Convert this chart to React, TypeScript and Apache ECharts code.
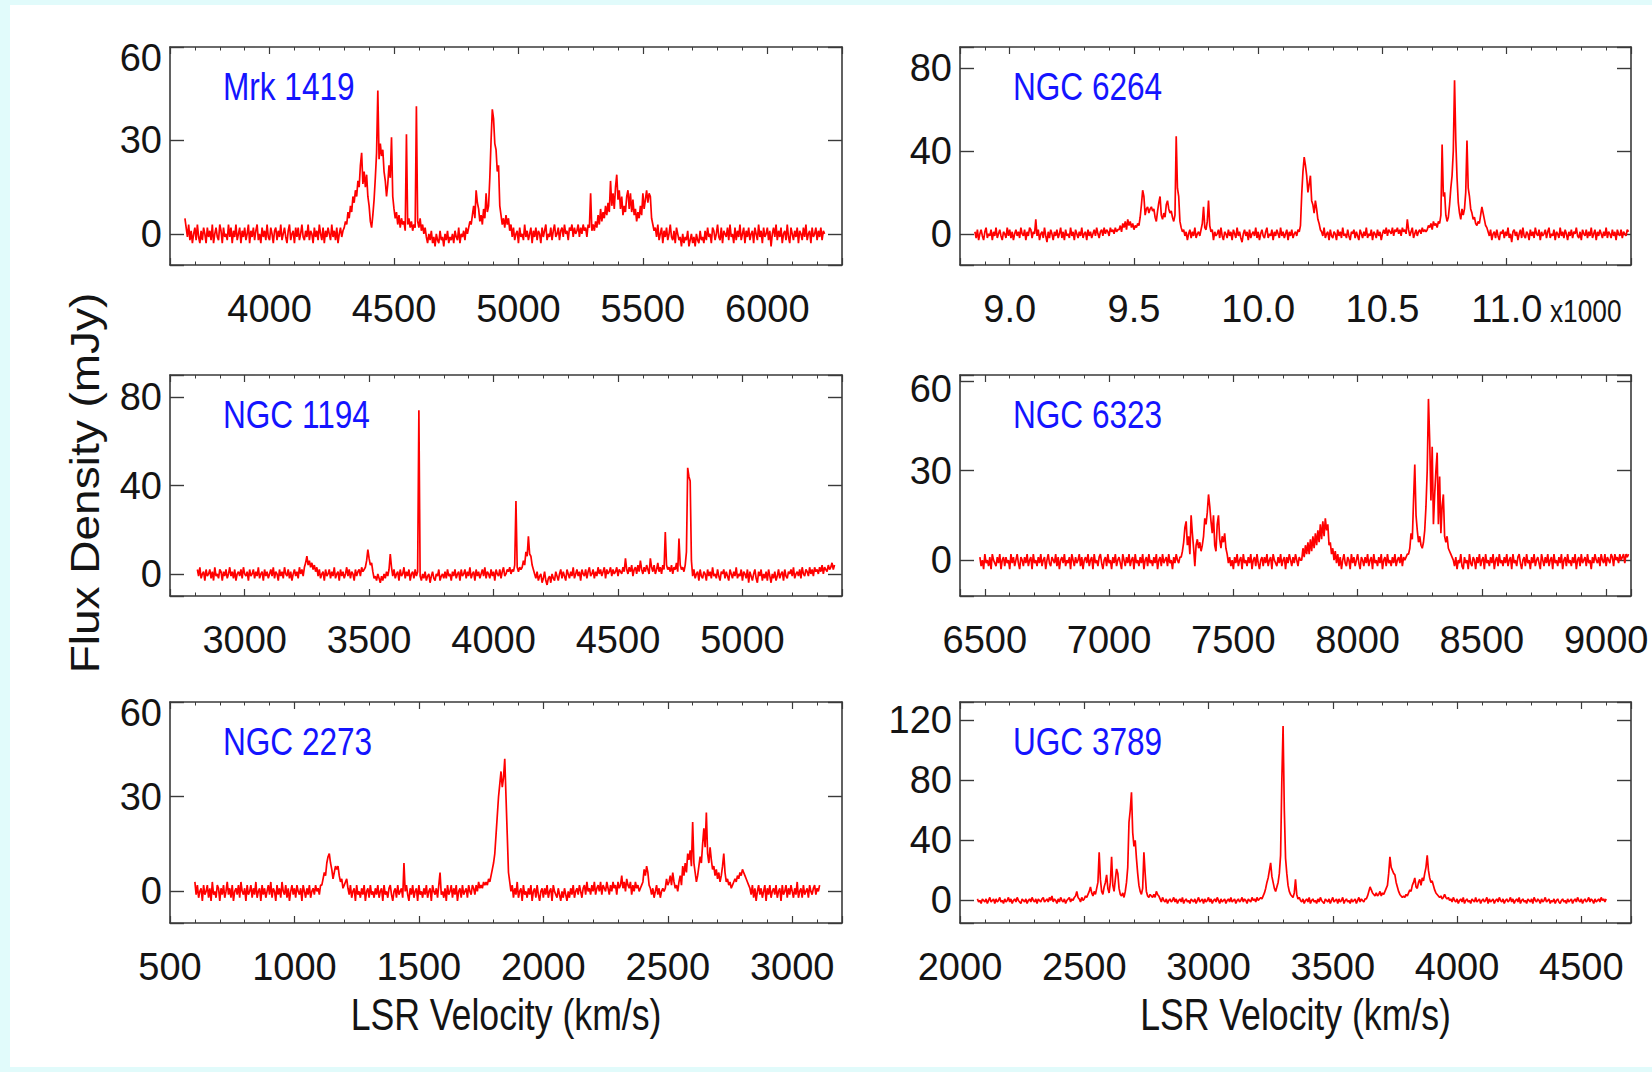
import React, { useEffect, useRef } from 'react';
import * as echarts from 'echarts';

// Channel width of every spectrum, km/s
const DV = 5;

// Mrk 1419: velocity of the first channel (km/s) and flux density per channel (mJy)
const MRK1419_V0 = 3660;
const MRK1419_FLUX = [
  5, 2, -1, 3, -2, 1, -3, 0, 2, -2, 3, -1, -3, 1, -2, 2, 0, -3, 2, -1,
  1, -2, 3, -3, 0, 2, -1, -2, 3, 1, -3, 2, -1, 0, -2, 3, -1, 2, -3, 1,
  -1, 3, -2, 0, 2, -3, 1, -1, 2, -2, 0, 3, -3, 1, -1, 2, -2, 1, 3, -2,
  0, -3, 2, -1, 1, -2, 3, -1, -2, 2, 0, -3, 1, 2, -2, 1, -1, 3, -2, 0,
  2, -1, -3, 1, 3, -2, 0, 1, -3, 2, -1, 2, -2, 0, 3, -1, -2, 1, -1, 3,
  -2, 1, 0, -3, 2, -1, 1, -2, 3, 0, -2, 2, -3, 1, -1, 2, 0, -2, 3, -1,
  1, -2, 2, -3, 0, 2, -1, 1,
  2, 4, 3, 7, 5, 9, 7, 12, 10, 14, 12, 17, 15, 22, 26, 16, 20, 15, 19, 12,
  9, 4, 2, 6, 11, 18, 26, 46, 24, 29, 25, 27, 20, 17, 12, 16, 22, 18, 31, 12,
  8, 5, 7, 3, 6, 2, 5, 3, 4, 1, 32, 3, 5, 2, 4, 1, 3, 2, 41, 4,
  2, 5, 1, 3, 0, 2,
  -1, -3, 0, -2, 1, -3, -1, -4, 0, -2, -3, 1, -2, -1, -4, 0, -2, 1, -3, -1,
  -2, 0, -3, 1, -1, -2, 2, -3, 0, -1, 1, -2, 2, 0,
  2, 4, 3, 6, 9, 5, 14, 10, 8, 4, 6, 3, 8, 5, 13, 7, 9, 18, 30, 40,
  37, 29, 27, 20, 22, 9, 6, 3, 5, 2, 6, 3, 5, 1, 3,
  -1, 2, -2, 0, 1, -3, 2, -1, 0, -2, 3, -1, 1, -2, 0, 2, -3, 1, -1, 2,
  -2, 1, 0, -3, 2, -1, 1, 3, -2, 0, -1, 2, -2, 1, 3, -1, 0, 2, -2, 1,
  2, -1, 3, 0, 1, -2, 2, 1, 3, -1, 2, 0, 1, 3, -1, 2, 0, 3, 1, 2,
  -1, 3,
  2, 13, 1,
  3, 1, 4, 2, 6, 3, 8, 4, 7, 5, 9, 6, 10, 7, 17, 9, 13, 8, 15, 19,
  11, 14, 8, 12, 6, 9, 7, 12, 14, 8, 13, 7, 11, 6, 8, 4, 7, 5, 9, 6,
  13, 8, 11, 14, 10, 13, 12, 5, 3, 1,
  2, -1, 3, -2, 0, 2, -3, 1, -1, 2, -2, 0, 3, -1, -2, 1, -3, 2, 0, -2,
  -1, -4, 0, -3, -1, -2, 1, -4, -2, 0, -3, -1, -4, 0, -2, -3, 1, -2, -1, -3,
  1, -2, 2, -1, 0, -3, 2, 1, -2, 0, 3, -1, -2, 2, -3, 1, 0, -1, 2, -2,
  3, -1, 0, -3, 2, -2, 1, -1, 3, -2, 0, 2, -3, 1, -1, 2, -2, 0, 1, -3,
  2, 0, -2, 3, -1, 1, -3, 2, -1, 0, 2, -2, 1, -4, 0, 2, -1, 3, -2, 1,
  -1, 2, -3, 0, 1, -2, 3, -1, -3, 2, 0, -2, 1, -1, 2, -3, 1, 0, -2, 2,
  -1, 3, -2, 0, 1, -3, 2, -1, 0, 2, -2, 1, -1, 2, -2, 1, 0,
];

// NGC 6264
const NGC6264_V0 = 8860;
const NGC6264_FLUX = [
  1, -2, 2, -3, 0, 2, -1, -3, 1, 3, -2, 0, -1, 2, -3, 1, -1, 3, -2, 0,
  2, -1, -3, 1, 0, -2, 3, -1, 2, -2, 1, -3, 0, 2, -1, 1, -2, 3, 0, -1,
  2, -3, 1, -1, 3, 2, -2, 1, 0,
  7,
  -1, 2, -3, 0, 1, -2, 3, -1, -4, 1, -2, 2, 0, -3, 1, -1, 2, -2, 0, 3,
  -2, 1, -3, 2, -1, 0, -2, 3, -1, 1, -3, 2, 0, -2, 1, -1, 3, -2, 0, 1,
  -3, 2, -1, 1, -2, 0, 2, -1, 3, 0, -2, 1, 2, -1, 3, 0, 2, 1, -1, 3,
  1, 2, 0, 3, 1, 2,
  2, 4, 1, 5, 3, 6, 2, 7, 4, 6, 3, 5, 2, 4, 3, 5, 4, 8, 14, 21,
  18, 9, 12, 13, 10, 12, 13, 11, 12, 8, 6, 11, 15, 18, 9, 7, 10, 8, 14, 16,
  12, 10, 11, 8, 6, 9, 47, 22, 18, 6, 3, 1,
  2, -1, 1, -3, 0, 2, -2, 1, -1, 3, -2, 0, 1, -1,
  2, 5, 13, 3, 2, 6, 16, 4, 1,
  2, -3, 1, -1, 0, 2, -2, 3, -1, -3, 1, 0, -2, 2, -1, 1, -3, 2, 0, -2,
  3, -1, 1, -2, -4, 0, 2, -1, 1, -3, 2, -2, 0, 1, -1, 3, -2, 1, -3, 0,
  2, -1, -2, 1, 3, -2, 0, -1, 2, -3, 1, -1, 2, 0, -2, 3, -1, 1, -2, 0,
  2, -3, 1, -1, 2, -2, 0, 1, -1, 2,
  1, 4, 19, 30, 37, 33, 28, 20, 24, 28, 16, 14, 10, 16, 12, 7, 5, 2, 1,
  -1, 3, -2, 0, 1, -3, 2, -1, -2, 1, 0, -3, 2, -1, 1, -2, 3, -1, 0, -2,
  2, -1, -3, 1, 0, 2, -2, 1, -1, -3, 2, 0, -2, 1, -1, 3, -2, 0, -1, 2,
  -3, 1, 0, -2, 2, -1, 1, -3, 0, 2, 0, 3, -1, 2, 1, 0, 3, -1, 2, 1,
  3, 0, 2, -1, 3, 1, 2, 0,
  7,
  2, -1, 1, 3, -2, 0, 2, -1, 1, 2, 0, 3, 1, 2, 1,
  2, 4, 3, 5, 2, 6, 4, 5, 3, 6, 5, 9, 43, 18, 20, 9, 6, 8, 14, 22,
  28, 40, 74, 45, 27, 15, 10, 7, 12, 9, 12, 20, 45, 22, 18, 12, 10, 7, 8, 5,
  4, 6, 5, 9, 13, 10, 7, 4, 3, 1,
  -1, 2, -3, 0, 1, -2, 2, -1, -3, 1, 0, 2, -2, 1, -1, 3, -2, 0, -4, 1,
  2, -1, 1, -3, 0, 2, -2, 3, -1, -2, 1, 0, -3, 2, -1, 1, -2, 3, 0, -1,
  2, -3, 1, -1, 0, 2, -2, 1, 3, -2, 0, -1, 2, -3, 1, 0, -2, 3, -1, 1,
  -2, 2, 0, -3, 1, -1, 2, -2, 1, 0, 3, -1, -2, 1, -3, 2, 0, -1, 2, -2,
  1, -1, 3, -2, 0, 2, -3, 1, -1, 2, 0, -2, 1, -1, 3, -2, 1, 0, -2, 2,
  -1, 1, -3, 2, 0, -1, 2, -2, 1, 0, -1, 2, 1,
];

// NGC 1194
const NGC1194_V0 = 2810;
const NGC1194_FLUX = [
  2, -1, 3, -2, 0, 1, -3, 2, -1, 0, 2, -2, 1, -3, 3, -1, 0, -2, 2, 1,
  -3, 1, -1, 2, -2, 0, 3, -1, 1, -2, 2, -3, 0, 1, -1, 2, -2, 3, 0, -1,
  1, -3, 2, -1, 0, 2, -2, 1, -1, 3, -2, 0, 1, -3, 2, -1, 1, -2, 0, 2,
  -1, 3, -2, 1, 0, -3, 2, -1, 1, -2, 3, 0, -1, 2, -2, 1, -3, 0, 2, -1,
  1, -2, 3, 0, 2, -1,
  3, 5, 8, 4, 6, 3, 5, 2, 4, 1, 3,
  -1, 2, -2, 0, 1, -3, 2, -1, 0, 2, -2, 1, -1, 3, -2, 0, 1, -3, 2, -1,
  1, -2, 0, 3, -1, 2, -2, 1, 0, -3, 2, -1, 1, 2, -1, 3, 1, 2,
  3, 6, 11, 7, 4, 5,
  1, -2, -1, -3, 0, -2, -4, -1, -3, 0, -2, 1, -1,
  2, 9, 3,
  -1, 2, -2, 0, 1, -3, 2, -1, 0, 3, -2, 1, -1, 2, -3, 0, 1, -2, 2, -1, 1,
  74,
  -1, -3, 0, -2, 1, -3, -1, 0, -4, -1, 1, -2, -3, 0, -1, 2, -3, -1, 0, -2,
  1, -2, 2, -1, 0, -3, 1, -1, 2, -2, 0, 1, -3, 2, -1, 0, 2, -2, 1, -1,
  3, -2, 0, 1, -3, 2, -1, 1, -2, 0, 2, -1, 3, -2, 1, 0, -2, 2, -1, 1,
  -3, 2, 0, -1, 2, -2, 1, 3, -1, 0, 2, 1, 3, 0, 2, 1,
  4, 33, 3,
  1, 3, 2,
  3, 6, 4, 10, 8, 17, 9, 8, 4, 2,
  0, -2, 1, -3, -1, 0, -4, -2, 1, -3, -5, -2, -1, -4, 0, -2, -3, 1, -1, -3,
  0, 2, -2, 1, -1, -3, 2, 0, -2, 1, -1, 3, -2, 0, 2, -1, 1, -3, 2, 0,
  -1, 2, -2, 1, 3, -1, 0, 2, -2, 1, -1, 3, 0, 2, -1, 1, 3, -2, 2, 0,
  1, 3, -1, 2, 0, 1, 3, -1, 2, 1, 0, 3, 1,
  7,
  2, 0, 3, 1, 4, -1, 2, 3, 0, 4, 1, 6, 2, 0, 3, 1, 4, 2, 0, 7,
  3, 1, 4, 0, 2, 5, 1, 3, 0, 4, 2,
  19, 4, 2,
  3, 1, 4, 0, 3, 2, 5, 1,
  16, 4,
  2, 3, 1, 4,
  10, 48, 44, 42, 6,
  -1, 2, -2, 0, 1, -3, 2, -1, -2, 1, 0, -3, 2, -1, 1, -2, 3, -1, 0, -2,
  2, -1, -3, 1, 0, 2, -2, 1, -1, -3, 2, 0, -2, 1, -1, 3, -2, 0, -1, 2,
  -3, 1, 0, -2, 2, -4, 1, -1, -3, 0, 2, -2, -4, 1, -1, 2, -3, 0, -2, 1,
  -3, 2, -1, -4, 0, -2, 1, -3, -1, 2, -2, 0, 1, -3, 2, -1, -2, 1, 0, 2,
  -1, 3, -2, 0, 1, -1, 2, -2, 3, 0, -1, 2, 1, -1, 3, 0, 2, -1, 3, 1,
  2, 0, 3, 1, 4, 0, 3, 2, 1, 4, 2, 3, 5, 2, 4,
];

// NGC 6323
const NGC6323_V0 = 6480;
const NGC6323_FLUX = [
  1, -2, 0, -3, 2, -1, 0, -2, 1, -3, 2, 0, -1, -2, 1, -1, 2, -3, 0, 1,
  -2, 1, -1, 0, -3, 2, -1, 1, -2, 0, 2, -1, -3, 1, 0, -2, 1, -1, 2, -2,
  0, 1, -3, 2, -1, 0, -2, 1, -1, 2, -2, 0, 1, -3, 0, 2, -1, -2, 1, 0,
  -1, 2, -2, 1, -3, 0, 1, -1, 2, -2, 0, -1, 1, -3, 2, 0, -2, 1, -1, 0,
  2, -2, 1, -3, 0, 1, -1, 2, -2, 0, 1, -3, 2, -1, 0, -2, 1, 2, -1, -3,
  0, 1, -2, 2, -1, 0, -3, 1, -1, 2, -2, 0, 1, -1, -3, 2, 0, -2, 1, -1,
  2, -2, 0, 1, -3, 2, -1, 0, -2, 1, -1, 2, -3, 0, 1, -2, 2, -1, 0, -2,
  1, -1, 2, -3, 0, 1, -2, 2, -1, 0, 1, -2, 2, -1, 0, -3, 1, -1, 2, 0,
  -1, 1,
  1, 3, 6, 11, 13, 5, 8, 2, 15, 9, 4, -2, 5, 7, 4, 6, 3, 5, 8, 14,
  12, 16, 22, 18, 13, 9, 15, 5, 3, 12, 15, 7, 4, 8, 6, 9, 4, 2,
  -1, 1, -2, 0, -3, 1, -1, 2, -2, 0, 1, -3, 2, -1, 0, -2, 1, -1, 2, -3,
  0, 1, -2, 2, -1, -3, 0, 1, -2, 1, -1, 2, -2, 0, 1, -3, 2, 0, -1, -2,
  1, -1, 2, -2, 0, 1, -3, 1, -1, 2, 0, -2, 1, -1, 2, 0, -2, 1, 0,
  0, 4, 1, 5, 2, 6, 2, 7, 3, 8, 4, 9, 5, 10, 6, 12, 7, 13, 8, 14,
  10, 12, 5, 6, 2, 4, 0, 3, -1, 2,
  -2, 1, -3, 0, 2, -1, -2, 1, 0, -3, 2, -1, 1, -2, 0, 2, -1, -3, 1, 0,
  -2, 1, -1, 2, -2, 0, 1, -3, 2, -1, 0, -2, 1, -1, 2, -3, 0, 1, -2, 2,
  -1, 0, -2, 1, -1, 2, -2, 0, 1, -1, 2, -2, 1, 0, 1, 2,
  2, 4, 9, 7, 20, 32, 15, 10, 6, 8, 5, 4, 6, 10, 18, 30, 54, 40, 20, 38,
  12, 22, 30, 36, 12, 28, 9, 18, 22, 8, 6, 8, 4, 3, 2, 1,
  0, -2, 1, -3, 0, -1, 2, -2, -3, 1, -1, 0, -3, 2, -1, -2, 1, 0, -3, 1,
  -1, 2, -2, 0, 1, -3, 2, -1, 0, -2, 1, -1, 2, -3, 0, 1, -2, 2, -1, 0,
  -2, 1, -1, 2, -2, 0, 1, -3, 2, -1, 0, -2, 1, 2, -1, -3, 0, 1, -2, 2,
  -1, 0, -3, 1, -1, 2, -2, 0, 1, -1, -3, 2, 0, -2, 1, -1, 2, -2, 0, 1,
  -3, 2, -1, 0, -2, 1, -1, 2, -3, 0, 1, -2, 2, -1, 0, -2, 1, -1, 2, -3,
  0, 1, -2, 2, -1, 0, 1, -2, 2, -1, 0, -3, 1, -1, 2, 0, -1, 1, -2, 2,
  0, -1, 2, -2, 1, 0, -1, 2, 1, -2, 2, 0, 1, -1, 2, 0, 1, 2, -1, 2,
  1, 2,
];

// NGC 2273
const NGC2273_V0 = 600;
const NGC2273_FLUX = [
  3, -1, 2, -2, 0, 1, -3, 2, -1, 0, 2, -2, 1, -3, 3, -1, 0, -2, 2, 1,
  -3, 1, -1, 2, -2, 0, 3, -1, 1, -2, 2, -3, 0, 1, -1, 2, -2, 3, 0, -1,
  1, -3, 2, -1, 0, 2, -2, 1, -1, 3, -2, 0, 1, -3, 2, -1, 1, -2, 0, 2,
  -1, 3, -2, 1, 0, -3, 2, -1, 1, -2, 3, 0, -1, 2, -2, 1, -3, 0, 2, -1,
  1, -2, 2, 0, -1, 1, -3, 2, 0, -2, 1, -1, 2, -2, 0, 1, -1, 2, 0, 1,
  -1, 2,
  2, 4, 6, 5, 9, 11, 12, 9, 7, 4, 6, 8, 7, 8, 5, 3, 4, 1, 2, 3,
  4, 1,
  -1, 2, -2, 0, 1, -3, 2, -1, 0, -2, 1, -1, 2, -3, 0, 1, -2, 2, -1, 0,
  -2, 1, -1, 2, -2, 0, 1, -3, 2, -1, 0, -2, 1, 2, -1, -3, 0, 1, -2, 2,
  -1, 0, 1, -2,
  9,
  0, 2, -1, -3, 1, -1, 2, -2, 0, 1, -3, 2, -1, 0, -2, 1, -1, 2, -2, 0,
  1, -3, 2, 0, -1, 1, -2, 2,
  6,
  -1, 0, -2, 1, -3, 2, -1, 0, 2, -2, 1, -1, 2, -3, 0, 1, -2, 2, -1, 0,
  1, -2, 2, 0, -1, 2, 1, -1, 2, 0, 3, 1, 2, 1, 3,
  2, 3, 2, 4, 3, 5, 7, 9, 12, 18, 24, 30, 34, 38, 33, 36, 42, 30, 18, 6,
  3,
  0, 2, -2, 1, -1, 3, -2, 0, 1, -3, 2, -1, 0, -2, 1, -1, 2, -3, 0, 1,
  -2, 2, -1, -3, 0, 1, -2, 1, -1, 2, -2, 0, 1, -3, 2, 0, -1, -2, 1, -1,
  -3, 0, -2, 1, -1, -3, 0, -2, 1, -1, 2, -2, 0, 1, -1, 2, 0, -2, 1, 2,
  -1, 3, 0, 1, -1, 2, 0, 3, -1, 1, 2, 0, 3, -1, 2, 1, 0, 3, 1, -1,
  2, 0, 3, 1, 2, -1, 3, 1, 2,
  5,
  1, 3, 0,
  4,
  2, 1, 3, -1, 2, 0, 3, 1, 2, 0, 1, 2,
  3, 7, 5, 8, 6, 2, 1,
  -1, 1, -2, 0, 2, -1, 1, -2, 0, 1, 0,
  1, 4, 2, 3, 5, 2, 6, 3, 1, 2, 0, 3, 5, 2, 8, 5, 9, 6, 12, 10,
  13, 8, 22, 9, 6, 3, 5, 8, 11, 9, 15, 20, 14, 25, 12, 9, 14, 10, 7, 8,
  5, 7, 4, 6, 3, 5, 8, 12, 6, 3, 4, 2, 3, 1, 2, 3, 4, 3, 5, 4,
  6, 5, 7, 6, 5, 4, 3, 2, 1,
  -1, 2, -2, 1, -3, 0, 2, -1, 1, -2, 0, 2, -3, 1, -1, 2, -2, 0, 1, -1,
  2, -2, 0, 1, -3, 2, -1, 0, 2, -2, 1, -1, 2, 0, -2, 1, -1, 3, -2, 0,
  1, -2, 2, -1, 0, 1, -2, 2, 0, -1, 1, 2, -1, 1, 0, 2,
];

// UGC 3789
const UGC3789_V0 = 2070;
const UGC3789_FLUX = [
  1, -1, 0, -2, 1, 0, -1, 1, -2, 0, 2, -1, 0, 1, -2, 1, -1, 0, 2, -1,
  0, -2, 1, -1, 0, 2, -1, 1, -2, 0, 1, -1, 2, 0, -1, -2, 1, 0, -1, 1,
  -2, 0, 1, -1, 2, 0, -1, 1, -2, 1, 0, -1, 1, 2, -1, 0, 1, -1, 2, 0,
  3,
  -1, 1, 0, -2, 1, -1, 2, 0, -1, 1, -2, 0, 1, 2, -1, 1, 0, 2,
  3, 6, 2,
  1, -1, 2, 0,
  1, 3, 2, 4, 6, 9, 5, 3, 6, 4, 8, 12, 32, 14, 6, 4, 9, 12, 17, 8,
  5, 12, 29, 10, 6, 14, 21, 18, 8, 4, 3, 5, 2, 6, 12, 22, 52, 60, 72, 45,
  36, 40, 28, 18, 10, 6, 4, 8, 32, 18, 6, 3, 2, 4, 3, 2, 4, 2, 6, 4,
  3,
  1, -1, 2, 0, -1, 1, -2, 0, 1, -1, 0, 2, -1, 1, -2, 0, 1, -1, 2, -2,
  0, 1, -1, 0, -2, 1, 0, -1, 1, -2, 0, 2, -1, 0, 1, -2, 1, -1, 0, 2,
  -1, 1, -2, 0, 1, -1, 2, 0, -2, 1, -1, 0, 1, -2, 0, 1, -1, 2, -1, 0,
  1, -2, 0, 1, -1, 0, 2, -1, 1, 0, -2, 1, 0, -1, 2, 0, 1, -1, 2, 0,
  1, 2,
  1, 3, 5, 8, 12, 15, 20, 25, 16, 12, 8, 6, 9, 12, 18, 30, 80, 116, 60, 28,
  18, 10, 6, 4, 3, 2, 5, 14, 4, 1, 2,
  0, -1, 1, -2, 0, 1, -1, 2, -2, 0, 1, -1, 0, -2, 1, -1, 2, 0, -1, -2,
  1, 0, -1, 1, -2, 0, 2, -1, 0, 1, -2, 1, -1, 0, 2, -2, 0, 1, -1, 0,
  -2, 1, -1, 0, 1, -2, 0, 2, -1, 1, 0, -1, 1,
  1, 3, 6, 9, 7, 5, 4, 3, 5, 3, 4, 6, 3, 5, 4, 6, 8, 10, 18, 29,
  22, 20, 18, 17, 12, 9, 6, 4, 3, 2, 3, 2, 4, 3, 5, 7, 6, 10, 12, 15,
  9, 8, 12, 14, 10, 15, 13, 18, 22, 30, 20, 15, 12, 13, 10, 7, 5, 4, 3, 2,
  3, 1, 2, 4, 2, 1,
  2, 0, 1, -1, 2, 0, -1, 1, -2, 0, 1, -1, 2, -2, 0, 1, -1, 0, -2, 1,
  0, -1, 2, -1, 0, 1, -2, 0, 1, -1, 0, 2, -2, 1, -1, 0, 1, -2, 0, 1,
  -1, 2, 0, -1, 1, -2, 0, 1, -1, 0, 2, -1, 1, -2, 0, 1, -1, 2, -2, 0,
  1, -1, 0, -2, 1, 0, -1, 1, -2, 2, 0, -1, 1, 0, -2, 1, -1, 0, 2, -1,
  0, 1, -2, 0, -1, 1, -2, 0, 1, -1, -2, 0, 1, -1, 0, -2, 1, -1, 0, 1,
  -2, 0, 1, -1, 2, 0, -1, 1, -2, 0, 1, -1, 0, 2, -1, 1, 0, -2, 1, -1,
  0, 1, -1, 2, 0, 1, -1, 1,
];

// Velocity tick spacing shared by every panel (km/s)
const X_STEP = 500;

// Layout: two columns by three rows of spectra
const COL_LEFT = [170, 960];
const COL_WIDTH = [672, 671];
const ROW_TOP = [47, 375, 702];
const ROW_HEIGHT = [218, 221, 221];

const PANELS = [
  { name: 'Mrk 1419', v0: MRK1419_V0, flux: MRK1419_FLUX, col: 0, row: 0, xMin: 3600, xMax: 6300, yMin: -10, yMax: 60, yStep: 30, topShift: 11, kilo: false },
  { name: 'NGC 6264', v0: NGC6264_V0, flux: NGC6264_FLUX, col: 1, row: 0, xMin: 8800, xMax: 11500, yMin: -15, yMax: 90, yStep: 40, topShift: 0, kilo: true },
  { name: 'NGC 1194', v0: NGC1194_V0, flux: NGC1194_FLUX, col: 0, row: 1, xMin: 2700, xMax: 5400, yMin: -10, yMax: 90, yStep: 40, topShift: 0, kilo: false },
  { name: 'NGC 6323', v0: NGC6323_V0, flux: NGC6323_FLUX, col: 1, row: 1, xMin: 6400, xMax: 9100, yMin: -12, yMax: 62, yStep: 30, topShift: 8, kilo: false },
  { name: 'NGC 2273', v0: NGC2273_V0, flux: NGC2273_FLUX, col: 0, row: 2, xMin: 500, xMax: 3200, yMin: -10, yMax: 60, yStep: 30, topShift: 11, kilo: false },
  { name: 'UGC 3789', v0: UGC3789_V0, flux: UGC3789_FLUX, col: 1, row: 2, xMin: 2000, xMax: 4700, yMin: -15, yMax: 132, yStep: 40, topShift: 0, kilo: false },
];

const X_TITLE = 'LSR Velocity (km/s)';
const Y_TITLE = 'Flux Density (mJy)';
const KILO_NOTE = 'x1000';

const TEXT_FONT = "'Liberation Sans', Arial, sans-serif";
const INK = '#141414';
const FRAME = '#3a3a3a';
const TRACE = '#ff0000';
const NAME_BLUE = '#1414ff';
const PAGE_TINT = '#e1fbfb';

function buildOption(): echarts.EChartsOption {
  const grid = PANELS.map((p) => ({
    left: COL_LEFT[p.col],
    width: COL_WIDTH[p.col],
    top: ROW_TOP[p.row],
    height: ROW_HEIGHT[p.row],
    containLabel: false,
    outerBoundsMode: 'none',
  }));

  const frameLine = { onZero: false, lineStyle: { color: FRAME, width: 1.6 } };

  const xAxis: any[] = [];
  const yAxis: any[] = [];
  PANELS.forEach((p, i) => {
    const xBase = {
      gridIndex: i,
      type: 'value',
      min: p.xMin,
      max: p.xMax,
      splitNumber: 5,
      minInterval: X_STEP,
      maxInterval: X_STEP,
      axisLine: frameLine,
      axisTick: { show: true, inside: true, length: 7, lineStyle: { color: FRAME, width: 1.2 } },
      minorTick: { show: true, splitNumber: 5, length: 3.5, lineStyle: { color: FRAME, width: 1 } },
      splitLine: { show: false },
    };
    xAxis.push({
      ...xBase,
      position: 'bottom',
      axisLabel: {
        show: true,
        margin: 25,
        fontSize: 38,
        fontFamily: TEXT_FONT,
        color: INK,
        formatter: (v: number) => {
          if (v % X_STEP !== 0 || v >= p.xMax) return '';
          return p.kilo ? (v / 1000).toFixed(1) : String(v);
        },
      },
    });
    xAxis.push({ ...xBase, position: 'top', axisLabel: { show: false } });

    const topTick = Math.floor(p.yMax / p.yStep) * p.yStep;
    const yBase = {
      gridIndex: i,
      type: 'value',
      min: p.yMin,
      max: p.yMax,
      splitNumber: 3,
      minInterval: p.yStep,
      maxInterval: p.yStep,
      axisLine: frameLine,
      axisTick: { show: true, inside: true, length: 14, lineStyle: { color: FRAME, width: 1.4 } },
      splitLine: { show: false },
    };
    yAxis.push({
      ...yBase,
      position: 'left',
      axisLabel: {
        show: true,
        margin: 8,
        fontSize: 38,
        fontFamily: TEXT_FONT,
        color: INK,
        lineHeight: p.topShift ? p.topShift * 2 : undefined,
        formatter: (v: number) => {
          if (v % p.yStep !== 0) return '';
          return p.topShift && v === topTick ? '\n' + v : String(v);
        },
      },
    });
    yAxis.push({ ...yBase, position: 'right', axisLabel: { show: false } });
  });

  const series = PANELS.map((p, i) => ({
    type: 'line',
    name: p.name,
    xAxisIndex: 2 * i,
    yAxisIndex: 2 * i,
    data: p.flux.map((f, k) => [p.v0 + k * DV, f]),
    showSymbol: false,
    symbol: 'none',
    silent: true,
    lineStyle: { color: TRACE, width: 1.7 },
    z: 3,
  }));

  const graphic: any[] = PANELS.map((p) => ({
    type: 'text',
    x: COL_LEFT[p.col] + 53,
    y: ROW_TOP[p.row] + 40,
    scaleX: 0.81,
    silent: true,
    style: {
      text: p.name,
      fontSize: 39,
      fontFamily: TEXT_FONT,
      fill: NAME_BLUE,
      align: 'left',
      verticalAlign: 'middle',
    },
  }));

  // Multiplier written after the last velocity label of the NGC 6264 panel
  graphic.push({
    type: 'text',
    x: 1550,
    y: 311,
    scaleX: 0.82,
    silent: true,
    style: { text: KILO_NOTE, fontSize: 32, fontFamily: TEXT_FONT, fill: INK, align: 'left', verticalAlign: 'middle' },
  });

  // Shared axis titles
  graphic.push({
    type: 'text',
    x: 85,
    y: 483,
    rotation: Math.PI / 2,
    scaleX: 1.15,
    silent: true,
    style: { text: Y_TITLE, fontSize: 40, fontFamily: TEXT_FONT, fill: INK, align: 'center', verticalAlign: 'middle' },
  });
  [0, 1].forEach((c) => {
    graphic.push({
      type: 'text',
      x: COL_LEFT[c] + COL_WIDTH[c] / 2,
      y: 1015,
      scaleX: 0.81,
      silent: true,
      style: { text: X_TITLE, fontSize: 44, fontFamily: TEXT_FONT, fill: INK, align: 'center', verticalAlign: 'middle' },
    });
  });

  return {
    animation: false,
    backgroundColor: 'transparent',
    grid,
    xAxis,
    yAxis,
    series,
    graphic,
  } as any;
}

export default function App() {
  const ref = useRef<HTMLDivElement>(null);

  useEffect(() => {
    document.body.style.margin = '0';
    const chart = echarts.init(ref.current!, null, { renderer: 'svg' });
    chart.setOption(buildOption());
    return () => chart.dispose();
  }, []);

  return (
    <div style={{ position: 'relative', width: 1652, height: 1072, background: PAGE_TINT, overflow: 'hidden' }}>
      <div style={{ position: 'absolute', left: 10, top: 5, width: 1642, height: 1062, background: '#ffffff' }} />
      <div ref={ref} style={{ position: 'absolute', left: 0, top: 0, width: 1652, height: 1072 }} />
    </div>
  );
}
